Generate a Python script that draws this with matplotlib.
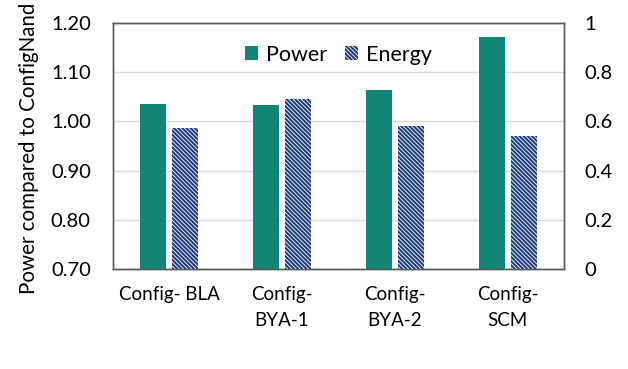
import matplotlib
matplotlib.use("Agg")
import matplotlib.pyplot as plt
import numpy as np

plt.rcParams['font.family'] = ['Lato', 'DejaVu Sans']
plt.rcParams['hatch.color'] = '#1F3A7A'
plt.rcParams['hatch.linewidth'] = 1.5

categories = ["Config- BLA", "Config-\nBYA-1", "Config-\nBYA-2", "Config-\nSCM"]
power = [1.035, 1.033, 1.064, 1.171]
energy = [0.572, 0.691, 0.581, 0.539]
left_ticks = [0.70, 0.80, 0.90, 1.00, 1.10, 1.20]
right_ticks = [0, 0.2, 0.4, 0.6, 0.8, 1.0]
right_labels = ["0", "0.2", "0.4", "0.6", "0.8", "1"]

fig = plt.figure(figsize=(6.28, 3.69), dpi=100)
ax = fig.add_axes([113/628, 1-269/369, 451/628, 246/369])
ax2 = ax.twinx()

x = np.arange(len(categories))
w = 0.23
off = 0.142
teal = '#138577'
ax.bar(x - off, power, w, color=teal, label='Power', zorder=3)
ax2.bar(x + off, energy, w, color='white', edgecolor='#1F3A7A', hatch='\\' * 8,
        linewidth=0, label='Energy', zorder=3)

ax.set_xlim(-0.5, len(categories) - 0.5)
ax.set_ylim(0.70, 1.20)
ax2.set_ylim(0, 1)
ax.set_yticks(left_ticks)
ax.set_yticklabels([f"{v:.2f}" for v in left_ticks])
ax2.set_yticks(right_ticks)
ax2.set_yticklabels(right_labels)
ax.set_xticks(x)
ax.set_xticklabels(categories, fontsize=13.5, linespacing=1.65)
ax.grid(axis='y', color='#D9D9D9', linewidth=1, zorder=0)
ax.set_axisbelow(True)

for a in (ax, ax2):
    a.tick_params(length=0, colors='#000000')
    a.tick_params(axis='y', labelsize=14.5)
    for s in a.spines.values():
        s.set_color('#595959')
        s.set_linewidth(1.0)
ax.tick_params(axis='y', pad=16)
ax.tick_params(axis='x', pad=12)
ax2.tick_params(axis='y', pad=15)

ax.set_ylabel("Power compared to ConfigNand", fontsize=14.8)
ax.yaxis.set_label_coords(-0.165, 0.49)

h1, l1 = ax.get_legend_handles_labels()
h2, l2 = ax2.get_legend_handles_labels()
ax.legend(h1 + h2, l1 + l2, loc='upper center', bbox_to_anchor=(0.5, 0.99), ncol=2,
          frameon=False, fontsize=15.5, handlelength=0.6, handleheight=0.6,
          handletextpad=0.4, columnspacing=0.8)

fig.savefig("out.png", dpi=100)
